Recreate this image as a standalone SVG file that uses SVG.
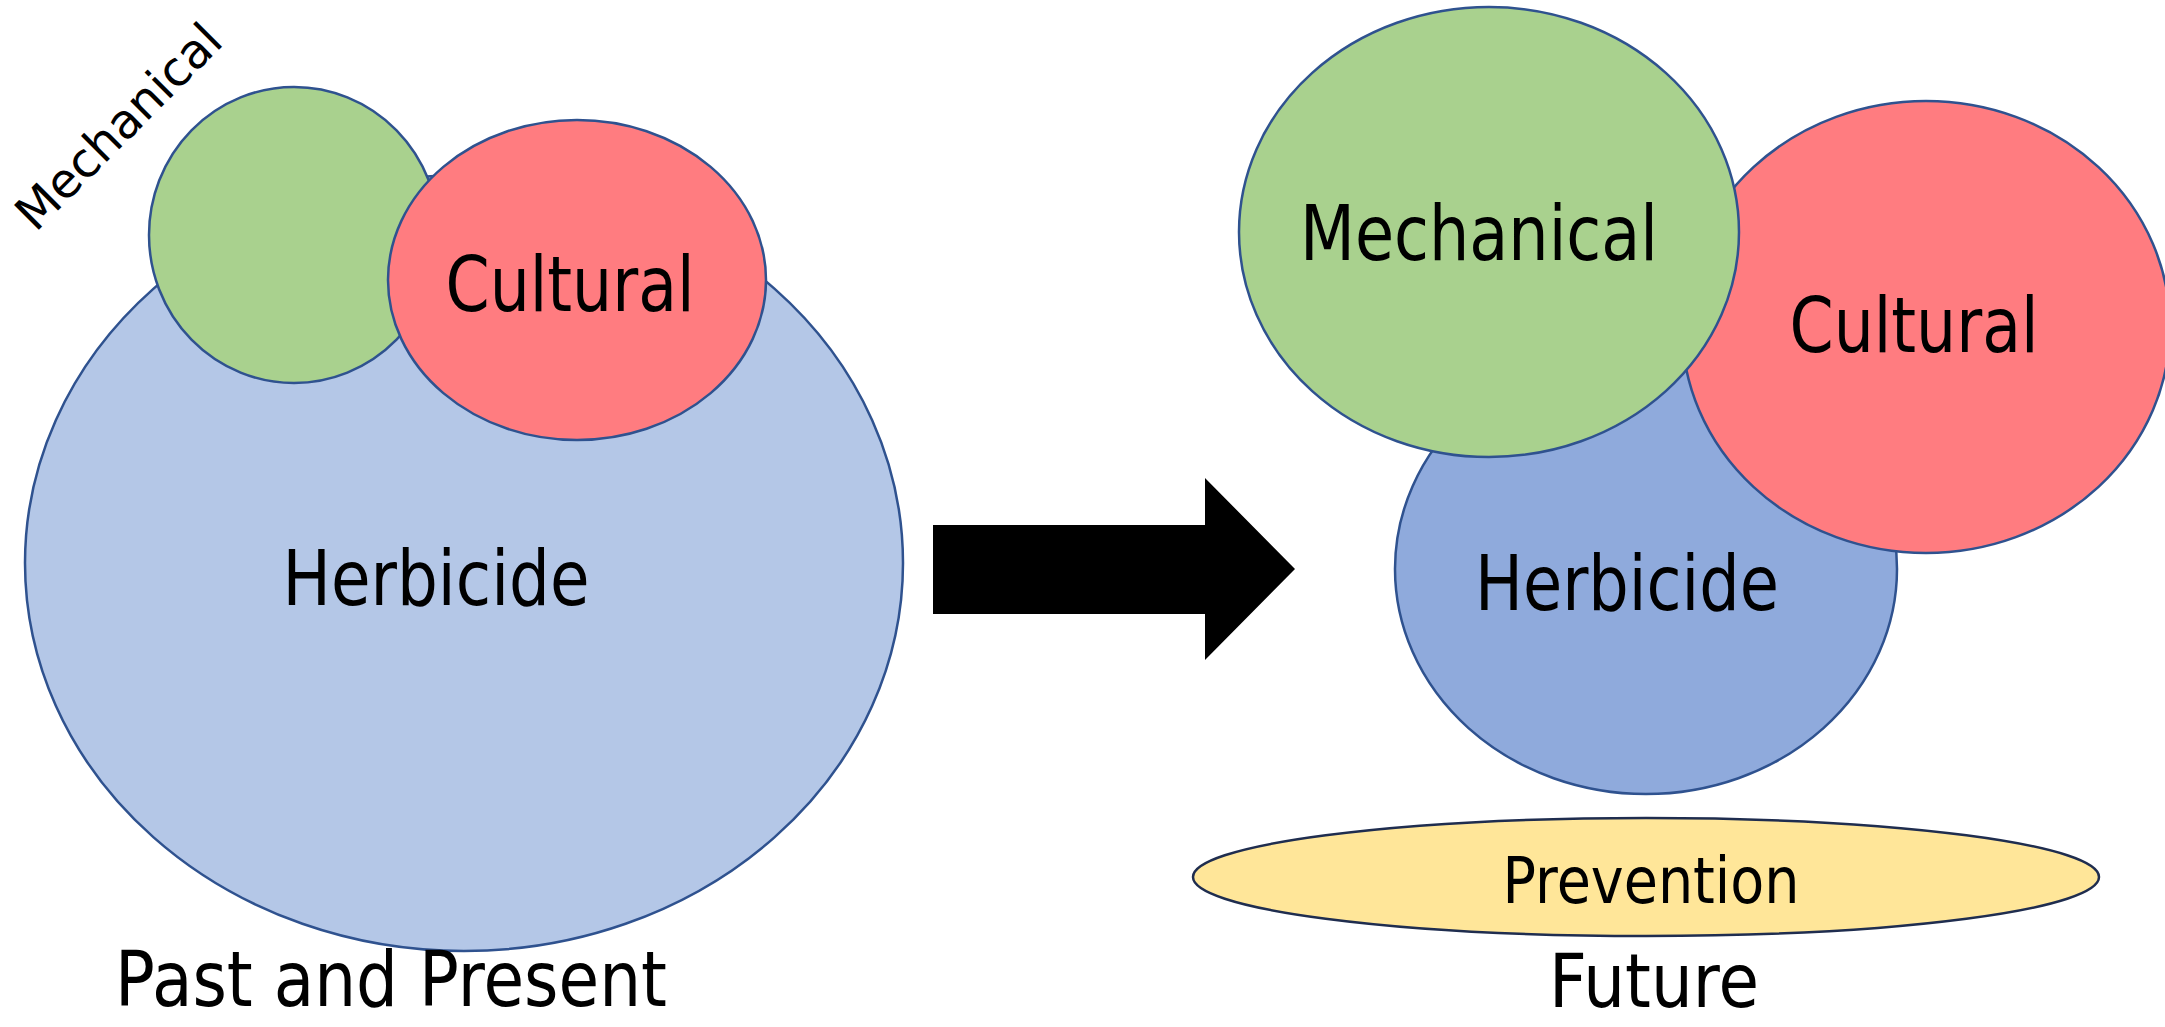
<svg xmlns="http://www.w3.org/2000/svg" width="2165" height="1027" viewBox="0 0 2165 1027">
<style>
.sh{stroke:#2F528F;stroke-width:2.5}
.t{font-family:"DejaVu Sans","Liberation Sans",sans-serif;fill:#000;text-anchor:middle}
</style>
<rect width="2165" height="1027" fill="#fff"/>
<g id="past-herbicide"><ellipse class="sh" cx="464" cy="563" rx="439" ry="388" fill="#B4C7E7"/><text class="t" x="436" y="605" font-size="76" textLength="307" lengthAdjust="spacingAndGlyphs">Herbicide</text></g>
<g id="past-mechanical"><ellipse class="sh" cx="294" cy="235" rx="145" ry="148" fill="#A9D18E"/><text class="t" transform="translate(119,127) rotate(-45)" x="0" y="16" font-size="48" textLength="268" lengthAdjust="spacingAndGlyphs">Mechanical</text></g>
<g id="past-cultural"><ellipse class="sh" cx="577" cy="280" rx="189" ry="160" fill="#FF7C80"/><text class="t" x="570" y="311" font-size="76" textLength="249" lengthAdjust="spacingAndGlyphs">Cultural</text></g>
<g id="connectors"><polygon points="933,525 1205,525 1205,478 1295,569 1205,660 1205,614 933,614" fill="#000"/></g>
<g id="future-herbicide"><ellipse class="sh" cx="1646" cy="569" rx="251" ry="225" fill="#8FAADC"/><text class="t" x="1627" y="610" font-size="76" textLength="304" lengthAdjust="spacingAndGlyphs">Herbicide</text></g>
<g id="future-cultural"><ellipse class="sh" cx="1926" cy="327" rx="244" ry="226" fill="#FF7C80"/><text class="t" x="1914" y="352" font-size="76" textLength="249" lengthAdjust="spacingAndGlyphs">Cultural</text></g>
<g id="future-mechanical"><ellipse class="sh" cx="1489" cy="232" rx="250" ry="225" fill="#A9D18E"/><text class="t" x="1479" y="260" font-size="76" textLength="358" lengthAdjust="spacingAndGlyphs">Mechanical</text></g>
<g id="prevention"><ellipse cx="1646" cy="877" rx="453" ry="59" fill="#FFE699" stroke="#1F2D4F" stroke-width="2.5"/><text class="t" x="1651" y="903" font-size="64" textLength="297" lengthAdjust="spacingAndGlyphs">Prevention</text></g>
<text class="t" id="label-past" x="391" y="1006" font-size="76" textLength="552" lengthAdjust="spacingAndGlyphs">Past and Present</text>
<text class="t" id="label-future" x="1654" y="1007" font-size="74" textLength="210" lengthAdjust="spacingAndGlyphs">Future</text>
</svg>
